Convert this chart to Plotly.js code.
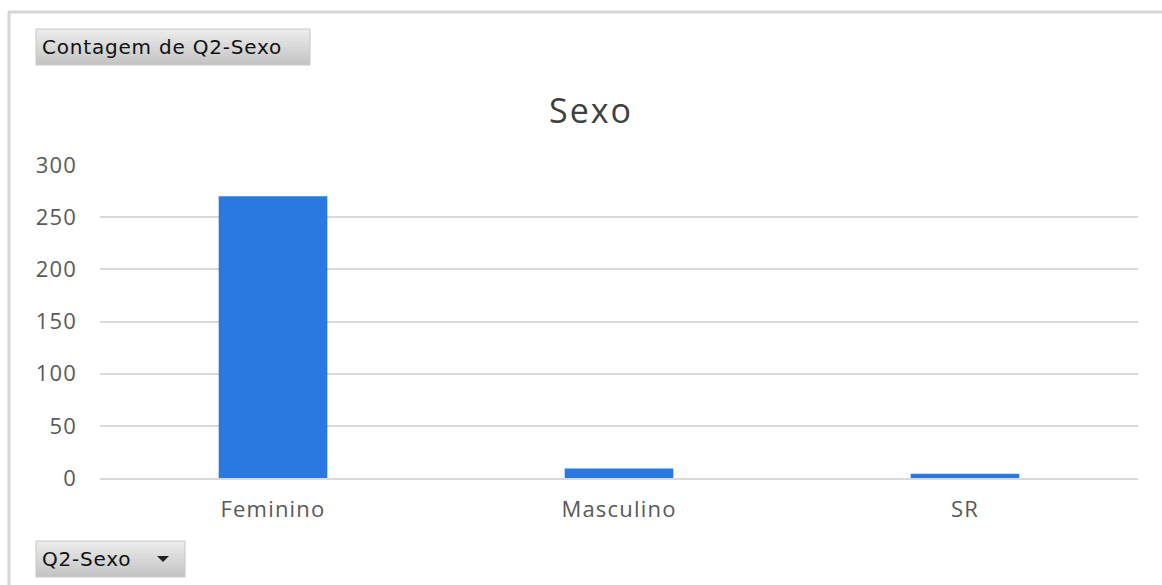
<!DOCTYPE html>
<html><head><meta charset="utf-8">
<script src="https://cdn.plot.ly/plotly-3.0.1.min.js"></script>
<style>html,body{margin:0;padding:0;background:#fff}#chart{width:1162px;height:585px}
.annotation-text{letter-spacing:0.8px}
.xtick text{letter-spacing:1.2px}
.ytick text{letter-spacing:1.2px}
.gtitle{letter-spacing:2px}
</style>
</head><body><div id="chart"></div>
<script>
const categories = ["Feminino", "Masculino", "SR"];
const counts = [270, 9, 4];
const yTicks = [0, 50, 100, 150, 200, 250, 300];
const chartTitle = "Sexo";
const fieldButton = "Contagem de Q2-Sexo";
const axisButton = "Q2-Sexo";

const W = 1162, H = 585, L = 100, R = 24, T = 165, B = 107;
const pw = W - L - R, ph = H - T - B;
const px = x => (x - L) / pw;
const py = y => (H - B - y) / ph;

function gradientButton(x0, x1, y0, y1) {
  const n = 12, out = [];
  const top = [236, 236, 236], bot = [196, 196, 196];
  for (let i = 0; i < n; i++) {
    const f = i / (n - 1);
    const c = top.map((t, k) => Math.round(t + (bot[k] - t) * f));
    out.push({type: "rect", xref: "paper", yref: "paper", layer: "below",
      x0: px(x0), x1: px(x1), y0: py(y0 + (y1 - y0) * i / n), y1: py(y0 + (y1 - y0) * (i + 1) / n),
      fillcolor: `rgb(${c.join(",")})`, line: {width: 0}});
  }
  out.push({type: "rect", xref: "paper", yref: "paper", layer: "below",
    x0: px(x0), x1: px(x1), y0: py(y0), y1: py(y1), fillcolor: "rgba(0,0,0,0)",
    line: {color: "#c8c8c8", width: 1}});
  return out;
}

const trace = {
  type: "bar", x: categories, y: counts,
  marker: {color: "#2a79e0", line: {width: 0}},
  hoverinfo: "x+y"
};

const layout = {
  width: W, height: H,
  margin: {l: L, r: R, t: T, b: B, pad: 0},
  paper_bgcolor: "#ffffff", plot_bgcolor: "#ffffff",
  bargap: 0.686,
  showlegend: false,
  font: {family: "Open Sans, sans-serif", color: "#595959"},
  title: {text: chartTitle, x: px(591), xanchor: "center", xref: "paper",
          y: 1 - 111 / H, yanchor: "middle",
          font: {size: 34, color: "#404040", family: "Open Sans, sans-serif"}},
  xaxis: {showline: true, linecolor: "#d9d9d9", linewidth: 2, showgrid: false,
          ticks: "", tickfont: {size: 22, color: "#595959"}, ticklabelstandoff: 11,
          fixedrange: true},
  yaxis: {range: [0, 300], tickvals: yTicks, ticktext: yTicks.map(String),
          showgrid: true, gridcolor: "#d9d9d9", gridwidth: 2, zeroline: false,
          showline: false, ticks: "", tickfont: {size: 22, color: "#595959"},
          ticklabelstandoff: 22, fixedrange: true},
  shapes: [
    {type: "line", xref: "paper", yref: "paper", x0: px(9), x1: px(9), y0: py(12), y1: py(590),
     line: {color: "#d6d6d6", width: 3}},
    {type: "line", xref: "paper", yref: "paper", x0: px(8), x1: px(1170), y0: py(12), y1: py(12),
     line: {color: "#d6d6d6", width: 3}},
    ...gradientButton(36, 310, 29, 65),
    ...gradientButton(36, 185, 541, 577),
    {type: "path", xref: "paper", yref: "paper",
     path: `M ${px(157)} ${py(556)} L ${px(169)} ${py(556)} L ${px(163)} ${py(562)} Z`,
     fillcolor: "#222222", line: {width: 0}}
  ],
  annotations: [
    {text: fieldButton, xref: "paper", yref: "paper", x: px(40), y: py(47),
     xanchor: "left", yanchor: "middle", showarrow: false, align: "left",
     font: {family: "DejaVu Sans, sans-serif", size: 20, color: "#111111"}},
    {text: axisButton, xref: "paper", yref: "paper", x: px(40), y: py(559),
     xanchor: "left", yanchor: "middle", showarrow: false, align: "left",
     font: {family: "DejaVu Sans, sans-serif", size: 20, color: "#111111"}}
  ]
};

Plotly.newPlot("chart", [trace], layout, {displayModeBar: false, staticPlot: true});
</script>
</body></html>
